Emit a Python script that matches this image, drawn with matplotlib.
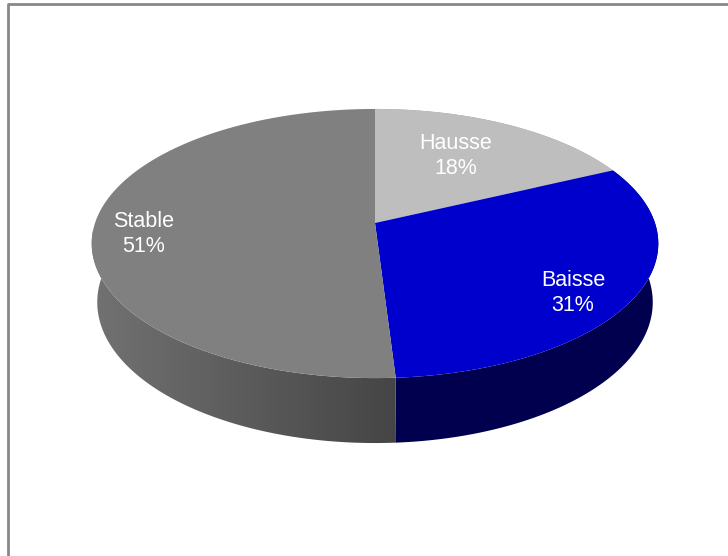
import numpy as np
import matplotlib.pyplot as plt
from matplotlib.patches import Polygon
from matplotlib.colors import LinearSegmentedColormap

# data
labels = ['Hausse', 'Baisse', 'Stable']
shares = [18, 31, 51]
top_colors = ['#bebebe', '#0000cc', '#808080']
side_colors = ['#9a9a9a', '#00004e', None]  # Stable side gets a gradient
label_pos = [(456, 156), (573, 293), (144, 234)]

# 3d view parameters (pixel space)
cx, cy = 375, 223
elev = np.radians(28.0)
f_len = 1621.0
dist = 5.79
depth = 0.240


def project(theta, z):
    # theta clockwise from the back, radius 1, z = 0 top face
    x = np.sin(theta)
    y = np.cos(theta)
    v = y * np.sin(elev) + z * np.cos(elev)
    w = y * np.cos(elev) - z * np.sin(elev)
    s = f_len / (dist + w)
    return cx + x * s, cy - v * s


fig = plt.figure(figsize=(7.28, 5.56), dpi=100)
ax = fig.add_axes([0, 0, 1, 1])
ax.set_xlim(0, 728)
ax.set_ylim(556, 0)
ax.axis('off')

# chart border
ax.plot([7.5, 7.5, 740], [570, 3.5, 3.5], color='#888888', lw=2, solid_capstyle='butt')

total = sum(shares)
bounds = np.cumsum([0] + shares) / total * 2 * np.pi

# sides
for i in range(len(shares)):
    t = np.linspace(bounds[i], bounds[i + 1], 200)
    xt, yt = project(t, 0)
    xb, yb = project(t[::-1], -depth)
    pts = np.column_stack([np.r_[xt, xb], np.r_[yt, yb]])
    if side_colors[i] is not None:
        ax.add_patch(Polygon(pts, closed=True, fc=side_colors[i], ec='none', zorder=2))
    else:
        poly = Polygon(pts, closed=True, fc='none', ec='none', zorder=2)
        ax.add_patch(poly)
        cmap = LinearSegmentedColormap.from_list('side', ['#727272', '#454545'])
        grad = np.linspace(0, 1, 256).reshape(1, -1)
        im = ax.imshow(grad, cmap=cmap, extent=[90, 398, 460, 230], aspect='auto', zorder=2)
        im.set_clip_path(poly)

# top faces
for i in range(len(shares)):
    t = np.linspace(bounds[i], bounds[i + 1], 200)
    xt, yt = project(t, 0)
    pts = np.column_stack([np.r_[cx, xt], np.r_[cy, yt]])
    ax.add_patch(Polygon(pts, closed=True, fc=top_colors[i], ec='none', zorder=3))

for i, (lx, ly) in enumerate(label_pos):
    ax.text(lx, ly, f'{labels[i]}\n{shares[i]}%', color='white', ha='center', va='center',
            fontsize=15.5, family='Liberation Sans', linespacing=1.22, zorder=4)

fig.savefig('out.png', dpi=100)
